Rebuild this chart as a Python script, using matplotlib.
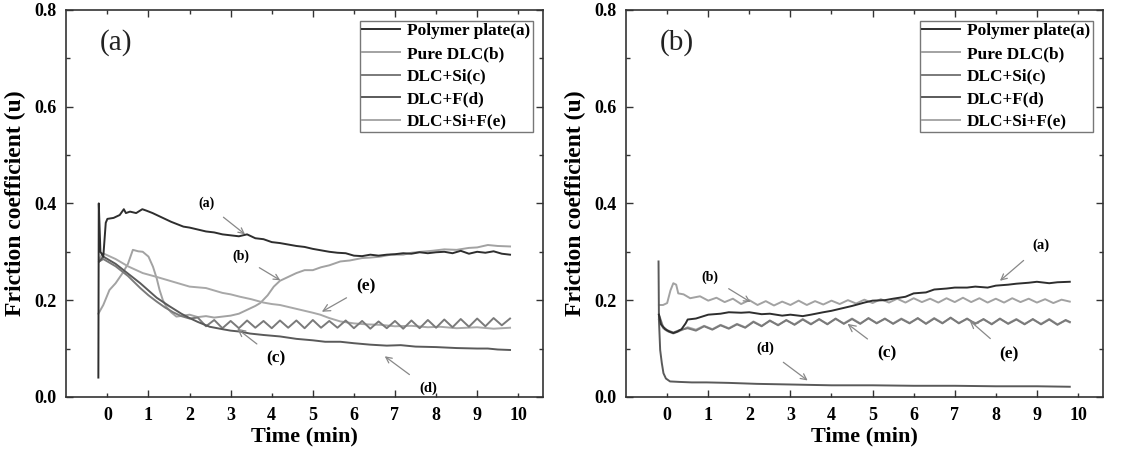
import matplotlib
matplotlib.use("Agg")
import matplotlib.pyplot as plt

plt.rcParams['font.family'] = ['Liberation Serif', 'DejaVu Serif']
plt.rcParams['font.weight'] = 'bold'

labels = ["Polymer plate(a)", "Pure DLC(b)", "DLC+Si(c)", "DLC+F(d)", "DLC+Si+F(e)"]
colors = ["#2e2e2e", "#a2a2a2", "#7a7a7a", "#5a5a5a", "#a8a8a8"]

# ---- panel (a) ----
xa_L = [-0.22, -0.21, -0.17, -0.1, -0.04, 0.0, 0.15, 0.3, 0.4, 0.45, 0.55, 0.7, 0.85, 0.95, 1.1,
        1.25, 1.4, 1.55, 1.7, 1.85, 2.0, 2.2, 2.4, 2.6, 2.8, 3.0, 3.2, 3.4, 3.6, 3.8, 4.0, 4.2, 4.4,
        4.6, 4.8, 5.0, 5.2, 5.4, 5.6, 5.8, 6.0, 6.2, 6.4, 6.6, 6.8, 7.0, 7.2, 7.4, 7.6, 7.8, 8.0,
        8.2, 8.4, 8.6, 8.8, 9.0, 9.2, 9.4, 9.6, 9.8]
ya_L = [0.04, 0.40, 0.30, 0.29, 0.36, 0.368, 0.370, 0.376, 0.388, 0.380, 0.383, 0.380, 0.388, 0.385,
        0.380, 0.374, 0.368, 0.362, 0.357, 0.352, 0.350, 0.346, 0.342, 0.340, 0.336, 0.334, 0.332,
        0.336, 0.328, 0.326, 0.320, 0.318, 0.315, 0.312, 0.310, 0.306, 0.303, 0.300, 0.298, 0.297,
        0.292, 0.291, 0.294, 0.292, 0.294, 0.295, 0.297, 0.296, 0.299, 0.297, 0.299, 0.300, 0.297,
        0.302, 0.296, 0.300, 0.298, 0.301, 0.296, 0.294]

xb_L = [-0.22, -0.1, 0.05, 0.2, 0.37, 0.5, 0.62, 0.75, 0.86, 1.0, 1.11, 1.2, 1.27, 1.35, 1.43, 1.55,
        1.68, 1.85, 2.0, 2.2, 2.4, 2.6, 2.8, 3.0, 3.2, 3.4, 3.6, 3.72, 3.9, 4.05, 4.2, 4.4, 4.6, 4.8,
        5.0, 5.2, 5.4, 5.67, 5.9, 6.2, 6.4, 6.65, 6.9, 7.2, 7.4, 7.63, 7.9, 8.2, 8.5, 8.8, 9.0, 9.26,
        9.5, 9.8]
yb_L = [0.172, 0.19, 0.221, 0.235, 0.256, 0.275, 0.304, 0.301, 0.300, 0.290, 0.269, 0.245, 0.221,
        0.200, 0.187, 0.175, 0.166, 0.168, 0.170, 0.165, 0.167, 0.164, 0.166, 0.168, 0.172, 0.180,
        0.188, 0.194, 0.210, 0.228, 0.240, 0.248, 0.256, 0.262, 0.262, 0.268, 0.272, 0.280, 0.282,
        0.287, 0.288, 0.290, 0.294, 0.294, 0.298, 0.300, 0.302, 0.305, 0.304, 0.308, 0.309, 0.314,
        0.312, 0.311]

xc_L = [-0.2, -0.1, 0.2, 0.5, 0.8, 1.0, 1.2, 1.4, 1.6, 1.8, 2.0, 2.2, 2.4, 2.6, 2.8, 3.0, 3.2, 3.4,
        3.6, 3.8, 4.0, 4.2, 4.4, 4.6, 4.8, 5.0, 5.2, 5.4, 5.6, 5.8, 6.0, 6.2, 6.4, 6.6, 6.8, 7.0,
        7.2, 7.4, 7.6, 7.8, 8.0, 8.2, 8.4, 8.6, 8.8, 9.0, 9.2, 9.4, 9.6, 9.8]
yc_L = [0.28, 0.285, 0.27, 0.25, 0.225, 0.21, 0.197, 0.185, 0.175, 0.167, 0.162, 0.164, 0.146,
        0.159, 0.142, 0.157, 0.142, 0.158, 0.143, 0.157, 0.142, 0.158, 0.143, 0.158, 0.142, 0.159,
        0.143, 0.157, 0.143, 0.158, 0.142, 0.157, 0.141, 0.156, 0.142, 0.157, 0.141, 0.158, 0.142,
        0.159, 0.143, 0.160, 0.144, 0.161, 0.145, 0.162, 0.146, 0.163, 0.148, 0.162]

xd_L = [-0.2, -0.1, 0.2, 0.5, 0.8, 1.0, 1.2, 1.5, 1.8, 2.0, 2.2, 2.49, 2.8, 3.0, 3.23, 3.47, 3.8,
        4.2, 4.6, 5.0, 5.3, 5.67, 6.0, 6.4, 6.8, 7.14, 7.5, 8.0, 8.5, 9.0, 9.26, 9.5, 9.8]
yd_L = [0.28, 0.29, 0.275, 0.255, 0.235, 0.22, 0.205, 0.188, 0.172, 0.163, 0.155, 0.145, 0.14,
        0.137, 0.135, 0.131, 0.128, 0.125, 0.12, 0.117, 0.114, 0.114, 0.111, 0.108, 0.106, 0.107,
        0.104, 0.103, 0.101, 0.10, 0.10, 0.098, 0.097]

xe_L = [-0.2, -0.11, 0.2, 0.5, 0.86, 1.2, 1.6, 2.0, 2.4, 2.8, 3.0, 3.23, 3.5, 3.8, 4.0, 4.2, 4.5,
        4.8, 5.0, 5.18, 5.4, 5.67, 6.0, 6.3, 6.65, 7.0, 7.4, 7.8, 8.1, 8.5, 9.0, 9.4, 9.8]
ye_L = [0.285, 0.297, 0.285, 0.27, 0.256, 0.248, 0.238, 0.228, 0.225, 0.215, 0.212, 0.207, 0.202,
        0.195, 0.192, 0.19, 0.184, 0.178, 0.174, 0.170, 0.163, 0.156, 0.152, 0.150, 0.149, 0.146,
        0.147, 0.144, 0.145, 0.142, 0.144, 0.141, 0.143]

# ---- panel (b) ----
xa_R = [-0.2, -0.15, -0.05, 0.05, 0.15, 0.25, 0.35, 0.45, 0.5, 0.7, 1.0, 1.3, 1.5, 1.8, 2.0, 2.3,
        2.5, 2.8, 3.0, 3.3, 3.5, 3.8, 4.0, 4.3, 4.5, 4.8, 5.0, 5.3, 5.5, 5.8, 6.0, 6.3, 6.5, 6.8,
        7.0, 7.3, 7.5, 7.8, 8.0, 8.3, 8.5, 8.8, 9.0, 9.3, 9.5, 9.8]
ya_R = [0.17, 0.15, 0.14, 0.135, 0.132, 0.135, 0.14, 0.152, 0.16, 0.162, 0.170, 0.172, 0.175,
        0.174, 0.175, 0.171, 0.172, 0.168, 0.170, 0.167, 0.170, 0.175, 0.178, 0.184, 0.188, 0.195,
        0.199, 0.200, 0.203, 0.207, 0.214, 0.216, 0.222, 0.224, 0.226, 0.226, 0.228, 0.226, 0.230,
        0.232, 0.234, 0.236, 0.238, 0.235, 0.237, 0.238]

xb_R = [-0.2, -0.1, 0.0, 0.08, 0.15, 0.22, 0.27, 0.4, 0.56, 0.8, 1.0, 1.2, 1.4, 1.6, 1.8, 2.0, 2.2,
        2.4, 2.6, 2.8, 3.0, 3.2, 3.4, 3.6, 3.8, 4.0, 4.2, 4.4, 4.6, 4.8, 5.0, 5.2, 5.4, 5.6, 5.8,
        6.0, 6.2, 6.4, 6.6, 6.8, 7.0, 7.2, 7.4, 7.6, 7.8, 8.0, 8.2, 8.4, 8.6, 8.8, 9.0, 9.2, 9.4,
        9.6, 9.8]
yb_R = [0.19, 0.19, 0.194, 0.22, 0.235, 0.232, 0.214, 0.212, 0.204, 0.208, 0.199, 0.205, 0.196,
        0.203, 0.192, 0.200, 0.190, 0.198, 0.189, 0.197, 0.190, 0.199, 0.190, 0.198, 0.191, 0.199,
        0.192, 0.200, 0.193, 0.201, 0.194, 0.202, 0.195, 0.203, 0.195, 0.204, 0.196, 0.203, 0.195,
        0.204, 0.196, 0.205, 0.196, 0.204, 0.195, 0.203, 0.195, 0.204, 0.196, 0.203, 0.195, 0.202,
        0.194, 0.201, 0.197]

xc_R = [-0.2, -0.1, 0.0, 0.15, 0.3, 0.5, 0.7, 0.9, 1.1, 1.3, 1.5, 1.7, 1.9, 2.1, 2.3, 2.5, 2.7,
        2.9, 3.1, 3.3, 3.5, 3.7, 3.9, 4.1, 4.3, 4.5, 4.7, 4.9, 5.1, 5.3, 5.5, 5.7, 5.9, 6.1, 6.3,
        6.5, 6.7, 6.9, 7.1, 7.3, 7.5, 7.7, 7.9, 8.1, 8.3, 8.5, 8.7, 8.9, 9.1, 9.3, 9.5, 9.7, 9.8]
yc_R = [0.17, 0.145, 0.138, 0.133, 0.138, 0.142, 0.137, 0.146, 0.139, 0.148, 0.141, 0.150, 0.143,
        0.155, 0.146, 0.158, 0.148, 0.159, 0.149, 0.160, 0.150, 0.161, 0.150, 0.162, 0.151, 0.161,
        0.151, 0.163, 0.152, 0.162, 0.151, 0.161, 0.152, 0.163, 0.151, 0.162, 0.152, 0.164, 0.152,
        0.162, 0.151, 0.161, 0.150, 0.162, 0.151, 0.160, 0.150, 0.161, 0.150, 0.160, 0.149, 0.159,
        0.155]

xd_R = [-0.21, -0.2, -0.17, -0.13, -0.09, -0.03, 0.07, 0.3, 0.6, 0.96, 1.5, 2.18, 2.8, 3.39, 4.0,
        5.0, 6.0, 7.0, 8.0, 9.0, 9.8]
yd_R = [0.28, 0.16, 0.097, 0.07, 0.049, 0.038, 0.032, 0.031, 0.030, 0.030, 0.029, 0.027, 0.026,
        0.025, 0.024, 0.024, 0.023, 0.023, 0.022, 0.022, 0.021]

xe_R = [-0.2, -0.1, 0.0, 0.15, 0.3, 0.5, 0.7, 0.9, 1.1, 1.3, 1.5, 1.7, 1.9, 2.1, 2.3, 2.5, 2.7,
        2.9, 3.1, 3.3, 3.5, 3.7, 3.9, 4.1, 4.3, 4.5, 4.7, 4.9, 5.1, 5.3, 5.5, 5.7, 5.9, 6.1, 6.3,
        6.5, 6.7, 6.9, 7.1, 7.3, 7.5, 7.7, 7.9, 8.1, 8.3, 8.5, 8.7, 8.9, 9.1, 9.3, 9.5, 9.7, 9.8]
ye_R = [0.16, 0.142, 0.136, 0.131, 0.136, 0.144, 0.139, 0.147, 0.140, 0.149, 0.142, 0.151, 0.144,
        0.156, 0.147, 0.157, 0.149, 0.158, 0.150, 0.161, 0.151, 0.160, 0.151, 0.161, 0.152, 0.162,
        0.152, 0.162, 0.153, 0.161, 0.152, 0.162, 0.153, 0.162, 0.152, 0.163, 0.153, 0.163, 0.153,
        0.161, 0.152, 0.160, 0.151, 0.161, 0.152, 0.161, 0.151, 0.160, 0.151, 0.161, 0.150, 0.158,
        0.154]

# annotations: text, text position, arrow tip, font size
notes_L = [("(a)", (2.4, 0.40), (3.35, 0.336), 10),
           ("(b)", (3.25, 0.29), (4.21, 0.241), 10),
           ("(e)", (6.3, 0.228), (5.22, 0.176), 12.5),
           ("(c)", (4.1, 0.079), (3.16, 0.141), 12.5),
           ("(d)", (7.8, 0.018), (6.75, 0.084), 10.5)]
notes_R = [("(a)", (9.1, 0.313), (8.1, 0.24), 10.5),
           ("(b)", (1.05, 0.247), (2.03, 0.196), 10),
           ("(d)", (2.38, 0.10), (3.42, 0.034), 10.5),
           ("(c)", (5.34, 0.09), (4.39, 0.151), 12.5),
           ("(e)", (8.32, 0.087), (7.36, 0.158), 12.5)]

panels = [
    ("(a)", [(xa_L, ya_L), (xb_L, yb_L), (xc_L, yc_L), (xd_L, yd_L), (xe_L, ye_L)], notes_L),
    ("(b)", [(xa_R, ya_R), (xb_R, yb_R), (xc_R, yc_R), (xd_R, yd_R), (xe_R, ye_R)], notes_R),
]

fig = plt.figure(figsize=(11.24, 4.49), dpi=100)
rects = [[0.059, 0.116, 0.424, 0.862], [0.557, 0.116, 0.424, 0.862]]

for rect, (tag, series, notes) in zip(rects, panels):
    ax = fig.add_axes(rect)
    # draw lighter curves first so the dark ones sit on top
    for i in [1, 4, 2, 3, 0]:
        x, y = series[i]
        ax.plot(x, y, color=colors[i], lw=1.4, label=labels[i])
    handles, lbls = ax.get_legend_handles_labels()
    order = [lbls.index(l) for l in labels]
    leg = ax.legend([handles[k] for k in order], [lbls[k] for k in order],
                    loc="upper right", bbox_to_anchor=(0.979, 0.972),
                    fontsize=12.4, frameon=True, fancybox=False, edgecolor="#555555",
                    handlelength=2.2, labelspacing=0.38, borderpad=0.15,
                    handletextpad=0.4, borderaxespad=0.0)
    leg.get_frame().set_linewidth(1.0)

    for txt, xyt, xy, fs in notes:
        ax.annotate(txt, xy=xy, xytext=xyt, fontsize=fs, fontweight="bold",
                    ha="center", va="center",
                    arrowprops=dict(arrowstyle="->", color="#888888", lw=0.9,
                                    shrinkA=6, shrinkB=0))

    ax.text(0.07, 0.915, tag, transform=ax.transAxes, fontsize=21,
            fontweight="normal", ha="left", va="center", color="#222222")

    ax.set_xlim(-1.0, 10.6)
    ax.set_ylim(0.0, 0.8)
    ax.set_xticks([1, 3, 5, 7, 9])
    ax.set_xticks([0, 2, 4, 6, 8, 10], minor=True)
    ax.set_xticklabels(["1", "3", "5", "7", "9"])
    ax.set_xticklabels(["0", "2", "4", "6", "8", "10"], minor=True)
    ax.set_yticks([0.0, 0.2, 0.4, 0.6, 0.8])
    ax.set_yticks([0.1, 0.3, 0.5, 0.7], minor=True)
    ax.set_yticklabels(["0.0", "0.2", "0.4", "0.6", "0.8"])
    ax.tick_params(which="both", direction="in", top=True, right=True,
                   labelsize=13, width=1.0, color="#333333", pad=7)
    ax.tick_params(which="major", length=5)
    ax.tick_params(which="minor", length=3)
    for lab in ax.get_xticklabels(which="both") + ax.get_yticklabels():
        lab.set_fontweight("bold")
    for sp in ax.spines.values():
        sp.set_linewidth(1.2)
        sp.set_color("#333333")
    ax.set_xlabel("Time (min)", fontsize=16, fontweight="bold", labelpad=2)
    ax.set_ylabel("Friction coefficient (u)", fontsize=17, fontweight="bold", labelpad=6)

fig.savefig("out.png", dpi=100)
